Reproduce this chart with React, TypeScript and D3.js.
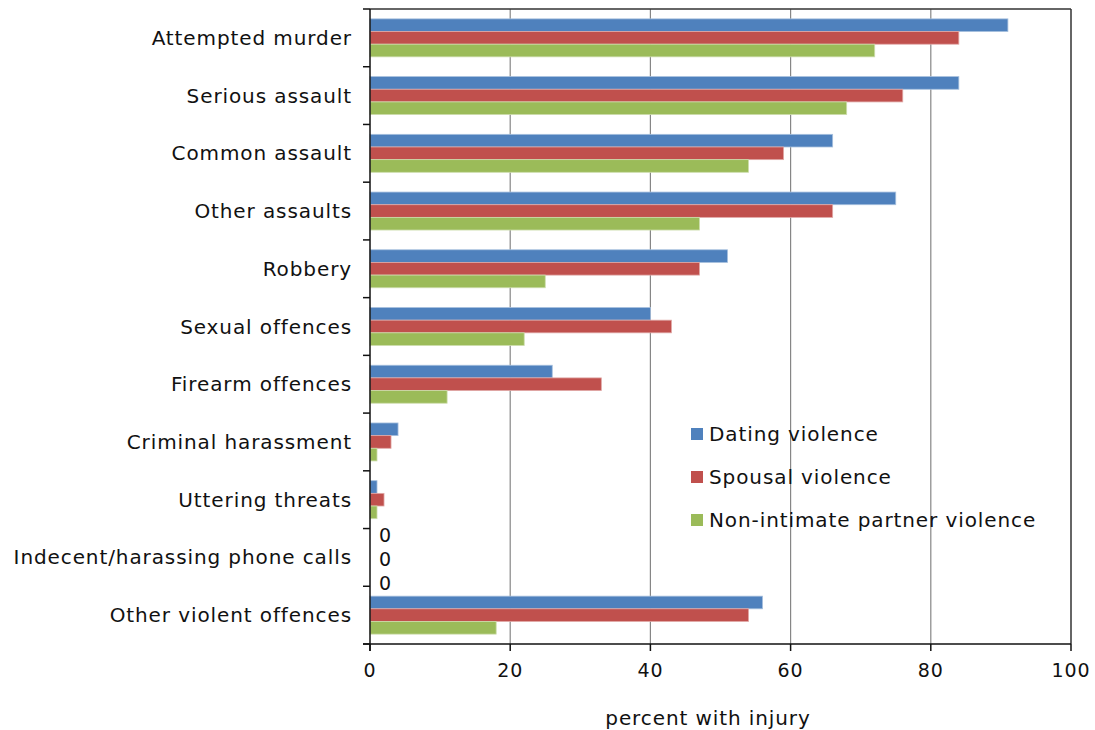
import React from "react";
import * as d3 from "d3";

const categories = [
  "Attempted murder",
  "Serious assault",
  "Common assault",
  "Other assaults",
  "Robbery",
  "Sexual offences",
  "Firearm offences",
  "Criminal harassment",
  "Uttering threats",
  "Indecent/harassing phone calls",
  "Other violent offences",
];
const seriesNames = ["Dating violence", "Spousal violence", "Non-intimate partner violence"];
const dating = [91, 84, 66, 75, 51, 40, 26, 4, 1, 0, 56];
const spousal = [84, 76, 59, 66, 47, 43, 33, 3, 2, 0, 54];
const nonIntimate = [72, 68, 54, 47, 25, 22, 11, 1, 1, 0, 18];
const xTicks = [0, 20, 40, 60, 80, 100];
const colors = ["#4F81BD", "#C0504D", "#9BBB59"];
const strokes = ["#A7C0DE", "#E0A8A6", "#CDDDAC"];

export default function App() {
  const W = 1095, H = 730;
  const left = 370, right = 1071, top = 9, bottom = 644;
  const font = "DejaVu Sans, Verdana, sans-serif";
  const fs = 20;
  const ls = 0.9;
  const x = d3.scaleLinear().domain([0, 100]).range([left, right]);
  const y = d3.scaleBand().domain(categories).range([top, bottom]).padding(0);
  const inner = d3.scaleBand().domain(seriesNames).range([0, y.bandwidth()]).paddingOuter(0.78).paddingInner(0);
  const series = [dating, spousal, nonIntimate];
  const boundaries = d3.range(categories.length + 1).map((i) => top + i * y.step());

  return (
    <svg width={W} height={H} style={{ position: "absolute", left: 0, top: 0, background: "#fff" }}>
      {/* gridlines */}
      {xTicks.slice(1, -1).map((t) => (
        <line key={"g" + t} x1={x(t)} x2={x(t)} y1={top} y2={bottom} stroke="#868686" strokeWidth={1.2} />
      ))}
      {/* bars */}
      {categories.map((c, i) =>
        series.map((s, j) =>
          s[i] > 0 ? (
            <rect
              key={c + j}
              x={x(0)}
              y={(y(c) as number) + (inner(seriesNames[j]) as number)}
              width={x(s[i]) - x(0)}
              height={inner.bandwidth()}
              fill={colors[j]}
              stroke={strokes[j]}
              strokeWidth={0.8}
            />
          ) : (
            <text
              key={c + j}
              x={x(0) + 15}
              y={(y(c) as number) + y.bandwidth() / 2 + 2 + (j - 1) * 24}
              dy="0.35em"
              textAnchor="middle"
              fontFamily={font}
              fontSize={fs - 1}
              fill="#111"
            >
              {s[i]}
            </text>
          )
        )
      )}
      {/* plot border */}
      <line x1={left} x2={right} y1={top} y2={top} stroke="#333" strokeWidth={1.5} />
      <line x1={right} x2={right} y1={top} y2={bottom} stroke="#333" strokeWidth={1.5} />
      {/* axes */}
      <line x1={left} x2={left} y1={top} y2={bottom + 7} stroke="#111" strokeWidth={1.5} />
      <line x1={left - 7} x2={right} y1={bottom} y2={bottom} stroke="#111" strokeWidth={1.5} />
      {boundaries.map((b, i) => (
        <line key={"yt" + i} x1={left - 7} x2={left} y1={b} y2={b} stroke="#111" strokeWidth={1.5} />
      ))}
      {xTicks.map((t) => (
        <g key={"xt" + t}>
          <line x1={x(t)} x2={x(t)} y1={bottom} y2={bottom + 7} stroke="#111" strokeWidth={1.5} />
          <text x={x(t)} y={670} dy="0.35em" textAnchor="middle" fontFamily={font} fontSize={fs - 1} letterSpacing={ls} fill="#111">
            {t}
          </text>
        </g>
      ))}
      {categories.map((c) => (
        <text
          key={"l" + c}
          x={352}
          y={(y(c) as number) + y.bandwidth() / 2}
          dy="0.35em"
          textAnchor="end"
          fontFamily={font}
          fontSize={fs}
          letterSpacing={ls}
          fill="#111"
        >
          {c}
        </text>
      ))}
      <text x={708} y={718} dy="0.35em" textAnchor="middle" fontFamily={font} fontSize={fs} letterSpacing={ls} fill="#111">
        percent with injury
      </text>
      {/* legend */}
      {seriesNames.map((n, j) => (
        <g key={"lg" + n}>
          <rect x={691} y={434 + j * 43 - 6} width={12} height={12} fill={colors[j]} />
          <text x={709} y={434 + j * 43} dy="0.35em" fontFamily={font} fontSize={fs} letterSpacing={ls} fill="#111">
            {n}
          </text>
        </g>
      ))}
    </svg>
  );
}
